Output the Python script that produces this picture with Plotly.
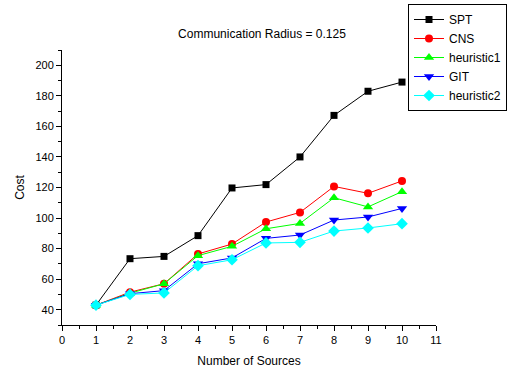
import plotly.graph_objects as go

x_sources = [1, 2, 3, 4, 5, 6, 7, 8, 9, 10]
spt = [43, 73.4, 74.9, 88.5, 119.7, 121.9, 140, 167.2, 183, 189]
cns = [43, 51.5, 57, 76.5, 83, 97.4, 103.7, 120.7, 116.2, 124.3]
heuristic1 = [43, 50.8, 57, 75.4, 81.5, 93, 96.5, 113.3, 107.3, 117.3]
git = [43, 50.5, 52.5, 70.1, 73.9, 86.7, 88.9, 98.7, 100.7, 106.3]
heuristic2 = [43, 50, 51, 68.8, 72.7, 83.7, 84.1, 91.5, 93.5, 96.3]

series = [
    ("SPT", spt, "#000000", "square", 7),
    ("CNS", cns, "#ff0000", "circle", 8),
    ("heuristic1", heuristic1, "#00ff00", "triangle-up", 9),
    ("GIT", git, "#0000ff", "triangle-down", 9),
    ("heuristic2", heuristic2, "#00ffff", "diamond", 9),
]

fig = go.Figure()
for name, vals, color, sym, sz in series:
    fig.add_trace(go.Scatter(
        x=x_sources, y=vals, name=name, mode="lines+markers",
        line=dict(color=color, width=1),
        marker=dict(symbol=sym, size=sz, color=color, line=dict(width=0)),
    ))

axis_common = dict(
    showline=True, linecolor="black", linewidth=1, showgrid=False, zeroline=False,
    ticks="outside", ticklen=5, tickcolor="black", tickwidth=1,
    tickfont=dict(family="Liberation Sans, Arial, sans-serif", size=11, color="black"),
)

fig.update_layout(
    width=510, height=368,
    margin=dict(l=62, r=74, t=50, b=43, autoexpand=False),
    paper_bgcolor="white", plot_bgcolor="white",
    font=dict(family="Liberation Sans, Arial, sans-serif", color="black"),
    title=dict(text="Communication Radius = 0.125", x=262/510, xanchor="center",
               y=1 - 34/368, yanchor="middle", font=dict(size=12, color="black")),
    xaxis=dict(range=[0, 11], dtick=1, tick0=0,
               title=dict(text="Number of Sources", font=dict(size=12), standoff=12),
               minor=dict(ticks="outside", dtick=0.5, tick0=0, ticklen=3, tickcolor="black"),
               **axis_common),
    yaxis=dict(range=[30, 210], dtick=20, tick0=40,
               title=dict(text="Cost", font=dict(size=12), standoff=8),
               minor=dict(ticks="outside", dtick=10, tick0=30, ticklen=3, tickcolor="black"),
               **axis_common),
    legend=dict(xref="container", yref="container", x=408/510, y=1 - 4/368,
                xanchor="left", yanchor="top",
                bordercolor="black", borderwidth=1, bgcolor="white",
                font=dict(size=12, color="black"), tracegroupgap=0,
                itemwidth=30),
    showlegend=True,
)

fig.write_html("out.html")
